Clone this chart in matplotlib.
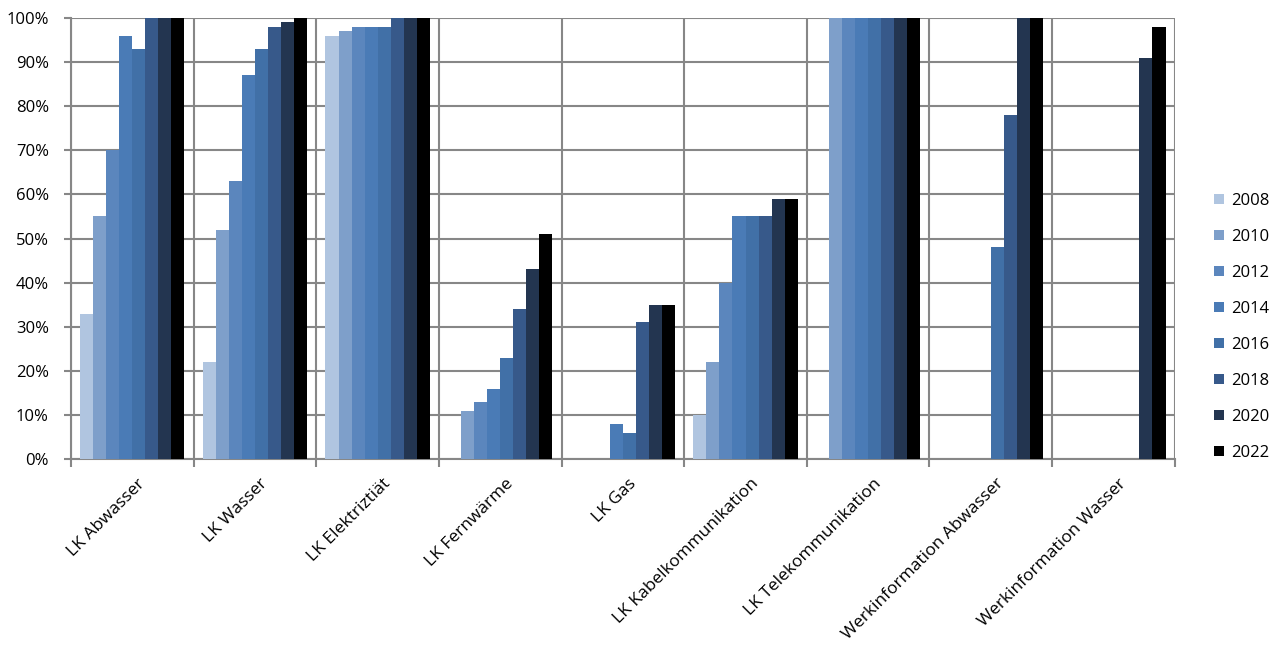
import numpy as np
import matplotlib.pyplot as plt
from matplotlib.ticker import MultipleLocator, FuncFormatter

plt.rcParams['font.family'] = ['Open Sans', 'DejaVu Sans']

categories = ['LK Abwasser', 'LK Wasser', 'LK Elektriztiät', 'LK Fernwärme', 'LK Gas',
              'LK Kabelkommunikation', 'LK Telekommunikation',
              'Werkinformation Abwasser', 'Werkinformation Wasser']
years = ['2008', '2010', '2012', '2014', '2016', '2018', '2020', '2022']

# Werte in Prozent, je Jahr eine Liste über die Kategorien
v2008 = [33, 22, 96, 0, 0, 10, 0, 0, 0]
v2010 = [55, 52, 97, 11, 0, 22, 100, 0, 0]
v2012 = [70, 63, 98, 13, 0, 40, 100, 0, 0]
v2014 = [96, 87, 98, 16, 8, 55, 100, 0, 0]
v2016 = [93, 93, 98, 23, 6, 55, 100, 48, 0]
v2018 = [100, 98, 100, 34, 31, 55, 100, 78, 0]
v2020 = [100, 99, 100, 43, 35, 59, 100, 100, 91]
v2022 = [100, 100, 100, 51, 35, 59, 100, 100, 98]
values = [v2008, v2010, v2012, v2014, v2016, v2018, v2020, v2022]

colors = ['#b0c5e0', '#7e9fca', '#5b86bd', '#4a7bb6', '#4170a7', '#37598a', '#233550', '#000000']

fig = plt.figure(figsize=(12.73, 6.54), dpi=100)
ax = fig.add_axes([0.0558, 0.298, 0.867, 0.6745])

x = np.arange(len(categories))
n = len(years)
group = 0.85
w = group / n
for i, (yr, vals) in enumerate(zip(years, values)):
    ax.bar(x - group / 2 + w * (i + 0.5), vals, width=w, color=colors[i],
           label=yr, zorder=3, linewidth=0)

gcol = '#878787'
ax.set_xlim(-0.5, len(categories) - 0.5)
ax.set_ylim(0, 100)
ax.yaxis.set_major_locator(MultipleLocator(10))
ax.yaxis.set_major_formatter(FuncFormatter(lambda v, p: f'{v:.0f}%'))
ax.set_xticks(np.append(x - 0.5, len(categories) - 0.5))
ax.set_xticklabels([])
ax.set_xticks(x + 0.04, minor=True)
ax.set_xticklabels(categories, minor=True, rotation=45, ha='right',
                   rotation_mode='anchor', fontsize=12.5)
ax.tick_params(axis='x', which='minor', length=0, pad=12)
ax.tick_params(axis='x', which='major', length=6, color=gcol, width=1.5)
ax.tick_params(axis='y', length=5, color=gcol, width=1.5, labelsize=12, pad=11)
ax.grid(True, which='major', color=gcol, linewidth=1.5, zorder=0)
for s in ['top', 'right']:
    ax.spines[s].set_visible(False)
for s in ['left', 'bottom']:
    ax.spines[s].set_color(gcol)
    ax.spines[s].set_linewidth(1.5)

ax.legend(loc='center left', bbox_to_anchor=(1.022, 0.30), frameon=False,
          fontsize=12, handlelength=0.6, handleheight=0.6, handletextpad=0.4,
          labelspacing=1.2)

fig.savefig('out.png', dpi=100)
